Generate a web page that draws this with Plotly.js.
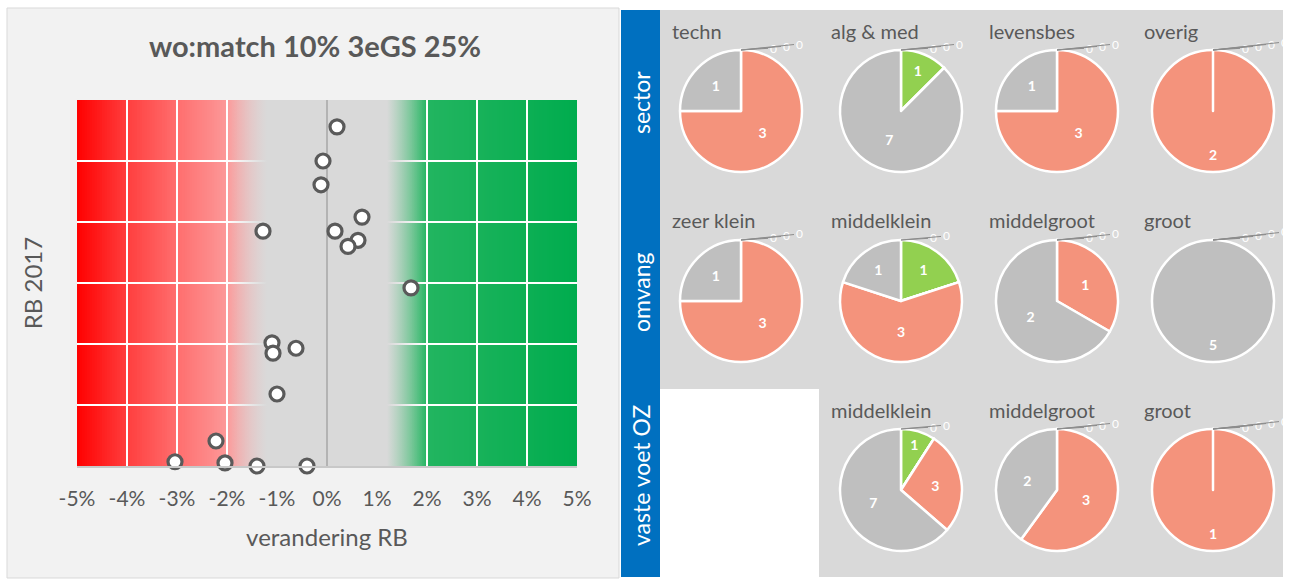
<!DOCTYPE html>
<html><head><meta charset="utf-8">
<script src="https://cdn.plot.ly/plotly-3.0.1.min.js"></script>
<style>html,body{margin:0;padding:0;background:#fff;}#chart{width:1293px;height:580px;}</style>
</head><body><div id="chart"></div>
<script>
// ---------- DATA ----------
const changeRB = [0.2, -0.08, -0.12, 0.7, -1.28, 0.16, 0.62, 0.42, 1.68, -1.1, -1.08, -0.62, -1.0, -2.22, -3.04, -2.04, -1.4, -0.4];
const rb2017   = [5.56, 5.0, 4.61, 4.08, 3.85, 3.85, 3.7, 3.6, 2.92, 2.02, 1.85, 1.93, 1.18, 0.41, 0.07, 0.05, 0.0, 0.0];
const xTickVals = [-5, -4, -3, -2, -1, 0, 1, 2, 3, 4, 5];
const xTickText = ['-5%', '-4%', '-3%', '-2%', '-1%', '0%', '1%', '2%', '3%', '4%', '5%'];

const pieCategories = ['beter', 'iets beter', 'iets slechter', 'slechter', 'gelijk'];
const groupNames = ['sector', 'omvang', 'vaste voet OZ'];
const sectorNames  = ['techn', 'alg & med', 'levensbes', 'overig'];
const sectorValues = [[0,0,0,3,1], [1,0,0,0,7], [0,0,0,3,1], [0,0,0,2,0]];
const omvangNames  = ['zeer klein', 'middelklein', 'middelgroot', 'groot'];
const omvangValues = [[0,0,0,3,1], [1,0,0,3,1], [0,0,0,1,2], [0,0,0,0,5]];
const vasteNames   = ['middelklein', 'middelgroot', 'groot'];
const vasteValues  = [[1,0,0,3,7], [0,0,0,3,2], [0,0,0,1,0]];

// ---------- STYLE / LAYOUT ----------
const W = 1293, H = 580;
const FONT = 'Lato, "Open Sans", sans-serif';
const TXT = '#595959';
const pieColors = ['#92d050', '#c5e0b4', '#f8cbad', '#f4937c', '#bfbfbf'];
const pieCols = [741, 901, 1057, 1213];
const pieRows = [111, 301, 490];
const pieR = 61;
const titleCols = [670, 829, 987, 1142];
const titleRows = [31, 220, 410];
const bannerY = [103, 292, 476];

const px = v => v / W, py = v => 1 - v / H;

// background gradient stops (x in %)
const bgStops = [
  [-5, [255, 0, 0]], [-4, [255, 62, 62]], [-3, [255, 110, 110]], [-2, [252, 152, 152]],
  [-1.2, [236, 190, 190]], [0, [217, 217, 217]], [1.2, [95, 195, 135]], [2, [34, 181, 96]],
  [3, [24, 178, 90]], [5, [0, 172, 78]]
];
function bgColor(x) {
  for (let i = 0; i < bgStops.length - 1; i++) {
    const [a, ca] = bgStops[i], [b, cb] = bgStops[i + 1];
    if (x >= a && x <= b) {
      const t = (x - a) / (b - a);
      return 'rgb(' + ca.map((c, k) => Math.round(c + (cb[k] - c) * t)).join(',') + ')';
    }
  }
  return 'rgb(0,172,78)';
}
const shapes = [];
const step = 0.05;
for (let x = -5; x < 5 - 1e-9; x += step) {
  shapes.push({type: 'rect', layer: 'below', xref: 'x', yref: 'paper',
    x0: x, x1: Math.min(5, x + step + 0.03), y0: py(466), y1: py(100),
    fillcolor: bgColor(x + step / 2), line: {width: 0}});
}
// panels
shapes.unshift(
  {type: 'rect', xref: 'paper', yref: 'paper', layer: 'below', x0: px(7), x1: px(619), y0: py(578), y1: py(8),
   fillcolor: '#f2f2f2', line: {color: '#d9d9d9', width: 1}},
  {type: 'rect', xref: 'paper', yref: 'paper', layer: 'below', x0: px(660), x1: px(1283), y0: py(389), y1: py(10),
   fillcolor: '#d9d9d9', line: {width: 0}},
  {type: 'rect', xref: 'paper', yref: 'paper', layer: 'below', x0: px(819), x1: px(1283), y0: py(577), y1: py(389),
   fillcolor: '#d9d9d9', line: {width: 0}},
  {type: 'rect', xref: 'paper', yref: 'paper', layer: 'below', x0: px(621), x1: px(660), y0: py(577), y1: py(10),
   fillcolor: '#0070c0', line: {width: 0}}
);

const neutral = [-2.0, 2.0];
const traces = [
  {type: 'scatter', x: [neutral[0], neutral[1], neutral[1], neutral[0], neutral[0]], y: [0, 0, 6, 6, 0],
   mode: 'lines', line: {width: 0}, fill: 'toself', hoverinfo: 'skip', showlegend: false,
   fillgradient: {type: 'horizontal', start: neutral[0], stop: neutral[1],
     colorscale: [[0, 'rgba(217,217,217,0)'], [0.2, 'rgba(217,217,217,1)'], [0.8, 'rgba(217,217,217,1)'], [1, 'rgba(217,217,217,0)']]}},
  {type: 'scatter', x: [0, 0], y: [0, 6], mode: 'lines', line: {color: '#a6a6a6', width: 1.5},
   hoverinfo: 'skip', showlegend: false},
  {type: 'scatter', x: changeRB, y: rb2017, mode: 'markers', showlegend: false, cliponaxis: false,
   marker: {size: 14, color: '#ffffff', line: {color: '#5a5a5a', width: 3.2}}}
];

const annotations = [];
function addPie(values, name, cx, cy, tx, ty) {
  const nonZero = values.filter(v => v > 0).length;
  const single = nonZero === 1;
  traces.push({type: 'pie', values: values, labels: pieCategories, sort: false, direction: 'clockwise', rotation: 0,
    textinfo: 'value', texttemplate: values.map(v => (v > 0 && !single) ? '%{value}' : ''),
    textposition: 'inside', insidetextorientation: 'horizontal',
    insidetextfont: {family: FONT, size: 14, color: '#ffffff', weight: 'bold'},
    marker: {colors: pieColors, line: {color: '#ffffff', width: 2.5}},
    domain: {x: [px(cx - pieR), px(cx + pieR)], y: [py(cy + pieR), py(cy - pieR)]},
    showlegend: false, hoverinfo: 'label+value', name: name});
  if (single) {
    const v = values.find(v => v > 0);
    annotations.push({text: '<b>' + v + '</b>', xref: 'paper', yref: 'paper', x: px(cx), y: py(cy + 0.72 * pieR),
      xanchor: 'center', yanchor: 'middle', showarrow: false, font: {family: FONT, size: 14, color: '#ffffff'}});
  }
  // zero-valued slices: small white labels with leader lines from the top of the pie
  let j = 0;
  values.forEach(v => {
    if (v === 0) {
      annotations.push({text: '0', xref: 'paper', yref: 'paper', x: px(cx), y: py(cy - pieR),
        showarrow: true, arrowhead: 0, arrowwidth: 1, arrowcolor: '#8c8c8c', standoff: 0,
        ax: 32 + 13 * j, ay: -2 - 2 * j, font: {family: FONT, size: 12, color: '#ffffff'}});
      j++;
    }
  });
  annotations.push({text: name, xref: 'paper', yref: 'paper', x: px(tx), y: py(ty), xanchor: 'left', yanchor: 'middle',
    showarrow: false, font: {family: FONT, size: 20, color: TXT}});
}
sectorNames.forEach((n, i) => addPie(sectorValues[i], n, pieCols[i], pieRows[0], titleCols[i], titleRows[0]));
omvangNames.forEach((n, i) => addPie(omvangValues[i], n, pieCols[i], pieRows[1], titleCols[i], titleRows[1]));
vasteNames.forEach((n, i) => addPie(vasteValues[i], n, pieCols[i + 1], pieRows[2], titleCols[i + 1], titleRows[2]));
groupNames.forEach((g, i) => annotations.push({text: g, xref: 'paper', yref: 'paper', x: px(641), y: py(bannerY[i]),
  xanchor: 'center', yanchor: 'middle', textangle: -90, showarrow: false, font: {family: FONT, size: 23, color: '#ffffff'}}));

const layout = {
  width: W, height: H, margin: {l: 0, r: 0, t: 0, b: 0},
  paper_bgcolor: '#ffffff', plot_bgcolor: 'rgba(0,0,0,0)',
  font: {family: FONT, color: TXT},
  title: {text: '<b>wo:match 10% 3eGS 25%</b>', x: px(315), xanchor: 'center', y: py(47), yanchor: 'middle',
    font: {family: FONT, size: 29, color: TXT}},
  xaxis: {domain: [px(77), px(577)], range: [-5, 5], tickvals: xTickVals, ticktext: xTickText,
    showgrid: true, gridcolor: '#ffffff', gridwidth: 2, zeroline: false, showline: true, linecolor: '#c8c8c8', linewidth: 1.5,
    ticks: '', ticklabelstandoff: 13, tickfont: {family: FONT, size: 21, color: TXT},
    title: {text: 'verandering RB', standoff: 20, font: {family: FONT, size: 24, color: TXT}}, fixedrange: true},
  yaxis: {domain: [py(466), py(100)], range: [0, 6], dtick: 1, showticklabels: false,
    showgrid: true, gridcolor: '#ffffff', gridwidth: 2, zeroline: false, ticks: '',
    title: {text: 'RB 2017', standoff: 26, font: {family: FONT, size: 24, color: TXT}}, fixedrange: true},
  shapes: shapes, annotations: annotations
};
Plotly.newPlot('chart', traces, layout, {displayModeBar: false, staticPlot: true});
</script></body></html>
